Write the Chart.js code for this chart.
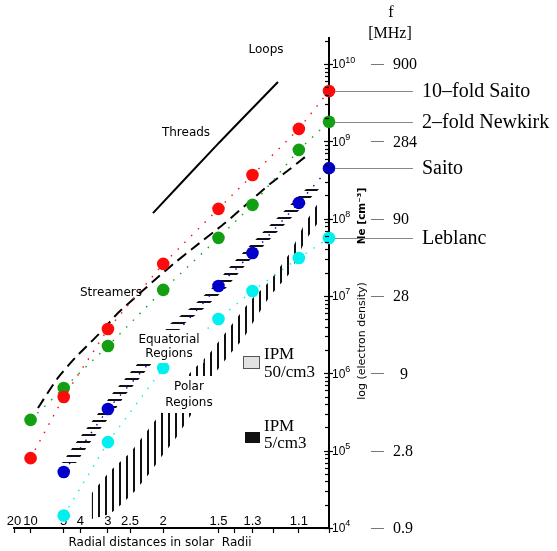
<!DOCTYPE html>
<html><head><meta charset="utf-8">
<script src="https://cdn.jsdelivr.net/npm/chart.js@4.4.1/dist/chart.umd.min.js"></script>
<style>html,body{margin:0;padding:0;background:#fff}canvas{display:block}</style>
</head><body>
<canvas id="c" width="557" height="551"></canvas>
<script>
// ---- data ----
const radii = [10, 5, 3, 2, 1.5, 1.3, 1.1, 1.0];                 // solar radii
const tenfoldSaito   = [8.0e4, 4.95e5, 3.74e6, 2.6e7, 1.34e8, 3.67e8, 1.45e9, 4.48e9];
const twofoldNewkirk = [2.5e5, 6.46e5, 2.26e6, 1.2e7, 5.65e7, 1.51e8, 7.76e8, 1.79e9];
const saito          = [null, 5.3e4, 3.46e5, null, 1.35e7, 3.6e7, 1.6e8, 4.5e8];
const leblanc        = [null, 1.45e4, 1.29e5, 1.17e6, 5.05e6, 1.16e7, 3.1e7, 5.62e7];
const seriesNames = ['10\u2013fold Saito', '2\u2013fold Newkirk', 'Saito', 'Leblanc'];
const seriesColors = ['#ff0a0a', '#12a012', '#0000c8', '#00f0f0'];

const xTickRadii  = [20, 10, 5, 4, 3, 2.5, 2, 1.5, 1.4, 1.3, 1.2, 1.1, 1];
const xTickLabels = ['20', '10', '5', '4', '3', '2.5', '2', '1.5', '', '1.3', '', '1.1', ''];
const densityExponents = [4, 5, 6, 7, 8, 9, 10];
const plasmaFreqMHz    = ['0.9', '2.8', '9', '28', '90', '284', '900'];

// structures
const threadR  = [2.132, 1.51, 1.182];
const threadNe = [1.18e8, 9.0e8, 5.86e9];
const streamerR  = [8.17, 5.565, 4.273, 3.233, 2.773, 2.326, 2.078, 1.846, 1.704, 1.457, 1.329, 1.2165, 1.1334, 1.078];
const streamerNe = [3.56e5, 8.45e5, 1.58e6, 3.33e6, 5.85e6, 1.09e7, 1.71e7, 2.84e7, 4.06e7, 8.79e7, 1.55e8, 2.81e8, 4.39e8, 6.28e8];
const equatorialNe     = [6.93e4, 1.22e5, 2.21e5, 3.26e5, 5.41e5, 8.45e5, 1.45e6, 2.47e6, 4.35e6, 7.43e6, 1.27e7, 2.84e7, 6.53e7, 1.29e8, 2.49e8];
const equatorialInnerR = [5.133, 4.273, 3.581, 3.233, 2.894, 2.600, 2.326, 2.104, 1.921, 1.695, 1.545, 1.396, 1.253, 1.153, 1.071];
const equatorialOuterR = [4.219, 3.621, 3.111, 2.844, 2.579, 2.342, 2.118, 1.933, 1.777, 1.582, 1.451, 1.318, 1.190, 1.0995, 1.028];
const polarUpperR  = [3.51, 2.945, 2.50, 2.17, 1.921, 1.722, 1.560, 1.426, 1.313, 1.2165, 1.1334, 1.078, 1.0217];
const polarUpperNe = [2.84e4, 5.46e4, 9.33e4, 2.02e5, 4.39e5, 1.01e6, 1.83e6, 3.97e6, 8.61e6, 1.56e7, 3.60e7, 8.79e7, 1.91e8];
const polarLowerR  = [3.51, 2.945, 2.641, 2.410, 2.188, 2.015, 1.857, 1.637, 1.524, 1.426, 1.350, 1.2774, 1.2165, 1.1334, 1.078, 1.0217];
const polarLowerNe = [1.31e4, 1.52e4, 2.10e4, 3.01e4, 4.99e4, 8.53e4, 1.46e5, 4.39e5, 1.01e6, 1.78e6, 2.78e6, 5.51e6, 1.0e7, 1.99e7, 5.14e7, 1.05e8];

// ---- helpers ----
const pt = (r, n) => ({ x: 1 / r, y: n });
const pairs = (rs, ns) => rs.map((r, i) => pt(r, ns[i]));

function stripes(vertical) {
  const c = document.createElement('canvas');
  c.width = 7; c.height = 7;
  const g = c.getContext('2d');
  g.fillStyle = '#111';
  if (vertical) g.fillRect(0, 0, 2, 7); else g.fillRect(0, 0, 7, 2);
  return g.createPattern(c, 'repeat');
}

const polarPoly = pairs(polarUpperR, polarUpperNe).concat(pairs(polarLowerR, polarLowerNe).reverse());
const eqPoly = equatorialInnerR.map((r, i) => pt(r, equatorialNe[i]))
  .concat(equatorialOuterR.map((r, i) => pt(r, equatorialNe[i])).reverse());

const datasets = [];
[tenfoldSaito, twofoldNewkirk, saito, leblanc].forEach((vals, k) => {
  datasets.push({
    label: seriesNames[k],
    data: radii.map((r, i) => pt(r, vals[i])),
    borderColor: seriesColors[k], borderWidth: 1.4, borderDash: [1.5, 8],
    pointRadius: 6.3, pointBackgroundColor: seriesColors[k], pointBorderWidth: 0,
    showLine: true, spanGaps: true, fill: false, tension: 0, order: 1, clip: false
  });
});
datasets.push({ label: 'Threads', data: pairs(threadR, threadNe), borderColor: '#000', borderWidth: 2,
  pointRadius: 0, fill: false, tension: 0.3, order: 5 });
datasets.push({ label: 'Streamers', data: pairs(streamerR, streamerNe), borderColor: '#000', borderWidth: 2,
  borderDash: [11, 6], pointRadius: 0, fill: false, tension: 0.2, order: 5 });
datasets.push({ label: 'Equatorial Regions', data: eqPoly, borderColor: 'rgba(0,0,0,0)', borderWidth: 1,
  backgroundColor: stripes(false), pointRadius: 0, fill: 'shape', tension: 0, order: 10 });
datasets.push({ label: 'Polar Regions', data: polarPoly, borderColor: 'rgba(0,0,0,0)', borderWidth: 1,
  backgroundColor: stripes(true), pointRadius: 0, fill: 'shape', tension: 0, order: 10 });

function textBox(ctx, lines, cx, cy0, lh) {
  ctx.font = '12px "DejaVu Sans"';
  let w = 0; lines.forEach(s => w = Math.max(w, ctx.measureText(s).width));
  ctx.fillStyle = '#fff';
  ctx.fillRect(cx - w / 2 - 4, cy0 - lh / 2 - 3, w + 8, lh * lines.length + 5);
  ctx.fillStyle = '#000'; ctx.textAlign = 'center';
  lines.forEach((s, i) => ctx.fillText(s, cx, cy0 + i * lh));
}

const overlay = {
  id: 'overlay',
  afterDraw(chart) {
    const { ctx, scales: { x, y } } = chart;
    const ax = y.left;
    ctx.save();
    ctx.textBaseline = 'middle';
    // y minor/major ticks
    ctx.strokeStyle = '#000'; ctx.lineWidth = 1.2;
    for (let e = densityExponents[0]; e <= 11; e++) {
      for (let k = 1; k <= 9; k++) {
        const v = k * Math.pow(10, e);
        if (v > y.max) break;
        const py = Math.round(y.getPixelForValue(v)) + 0.5;
        ctx.beginPath(); ctx.moveTo(ax - (k === 1 ? 5 : 4), py); ctx.lineTo(ax + (k === 1 ? 4 : 0), py); ctx.stroke();
      }
    }
    // decade labels + plasma frequency
    densityExponents.forEach((e, i) => {
      const py = y.getPixelForValue(Math.pow(10, e));
      ctx.fillStyle = '#000'; ctx.textAlign = 'left';
      ctx.font = '12px "Liberation Sans"';
      ctx.fillText('10', ax + 3, py + 1);
      const w = ctx.measureText('10').width;
      ctx.font = '9px "Liberation Sans"';
      ctx.fillText(String(e), ax + 3 + w, py - 4);
      ctx.font = '16px "Liberation Serif"';
      const lbl = plasmaFreqMHz[i];
      const tw = ctx.measureText(lbl).width;
      const tx = Math.max(393, 408 - tw);
      ctx.strokeStyle = '#777'; ctx.lineWidth = 1;
      const yy = Math.round(py) + 0.5;
      ctx.beginPath(); ctx.moveTo(371, yy); ctx.lineTo(Math.min(384, tx - 3), yy); ctx.stroke();
      ctx.fillText(lbl, tx, py + 1);
    });
    // f [MHz]
    ctx.textAlign = 'center'; ctx.fillStyle = '#000';
    ctx.font = '16px "Liberation Serif"';
    ctx.fillText('f', 391, 13);
    ctx.fillText('[MHz]', 390, 34);
    // rotated axis titles
    ctx.save(); ctx.translate(362, 216); ctx.rotate(-Math.PI / 2);
    ctx.font = '600 10.5px "DejaVu Sans"'; ctx.fillText('Ne [cm\u207B\u00B3]', 0, 0); ctx.restore();
    ctx.save(); ctx.translate(362, 341); ctx.rotate(-Math.PI / 2);
    ctx.font = '11px "DejaVu Sans"'; ctx.fillText('log (electron density)', 0, 0); ctx.restore();
    // series leader lines + names
    [tenfoldSaito, twofoldNewkirk, saito, leblanc].forEach((vals, k) => {
      const py = Math.round(y.getPixelForValue(vals[vals.length - 1])) + 0.5;
      ctx.strokeStyle = '#888'; ctx.lineWidth = 1;
      ctx.beginPath(); ctx.moveTo(ax + 6, py); ctx.lineTo(413, py); ctx.stroke();
      ctx.fillStyle = '#000'; ctx.textAlign = 'left';
      ctx.font = '20px "Liberation Serif"';
      ctx.fillText(seriesNames[k], 422, py);
    });
    // x axis title
    ctx.textAlign = 'center'; ctx.font = '12px "DejaVu Sans"';
    ctx.fillText('Radial distances in solar  Radii', 160, 543);
    // region labels
    ctx.font = '12px "DejaVu Sans"';
    ctx.fillText('Loops', 266, 50);
    ctx.fillText('Threads', 186, 133);
    ctx.fillText('Streamers', 111, 293);
    textBox(ctx, ['Equatorial', 'Regions'], 169, 340, 14);
    textBox(ctx, ['Polar', 'Regions'], 189, 387, 16);
    // IPM legend
    ctx.fillStyle = '#e2e2e2'; ctx.strokeStyle = '#555'; ctx.lineWidth = 1;
    ctx.fillRect(243.5, 356.5, 16, 12); ctx.strokeRect(243.5, 356.5, 16, 12);
    ctx.fillStyle = '#111'; ctx.fillRect(245, 432, 15, 11);
    ctx.fillStyle = '#000'; ctx.textAlign = 'left'; ctx.font = '17px "Liberation Serif"';
    ctx.fillText('IPM', 264, 355); ctx.fillText('50/cm3', 264, 373);
    ctx.fillText('IPM', 264, 427); ctx.fillText('5/cm3', 264, 444);
    ctx.restore();
  }
};

new Chart(document.getElementById('c'), {
  type: 'line',
  data: { datasets },
  options: {
    responsive: false, animation: false, devicePixelRatio: 1,
    layout: { padding: { left: 14, top: 38, right: 0, bottom: 0 } },
    plugins: { legend: { display: false }, tooltip: { enabled: false } },
    scales: {
      x: {
        type: 'linear', min: 0.05, max: 1, bounds: 'data',
        afterBuildTicks: s => { s.ticks = xTickRadii.map(r => ({ value: 1 / r })); },
        afterFit: s => { s.height = 23; },
        grid: { drawOnChartArea: false, drawTicks: true, tickLength: 5, color: '#000', tickWidth: 1.2 },
        border: { display: true, color: '#000', width: 2 },
        ticks: { mirror: true, padding: 0, autoSkip: false, maxRotation: 0, color: '#000',
          font: { family: 'Liberation Sans', size: 13, lineHeight: 1 },
          callback: (v, i) => xTickLabels[i] }
      },
      y: {
        type: 'logarithmic', position: 'right', min: 1e4, max: 2.17e10, bounds: 'data',
        afterFit: s => { s.width = 228; },
        grid: { display: false },
        border: { display: true, color: '#000', width: 2 },
        ticks: { display: false }
      }
    }
  },
  plugins: [overlay]
});
</script></body></html>
